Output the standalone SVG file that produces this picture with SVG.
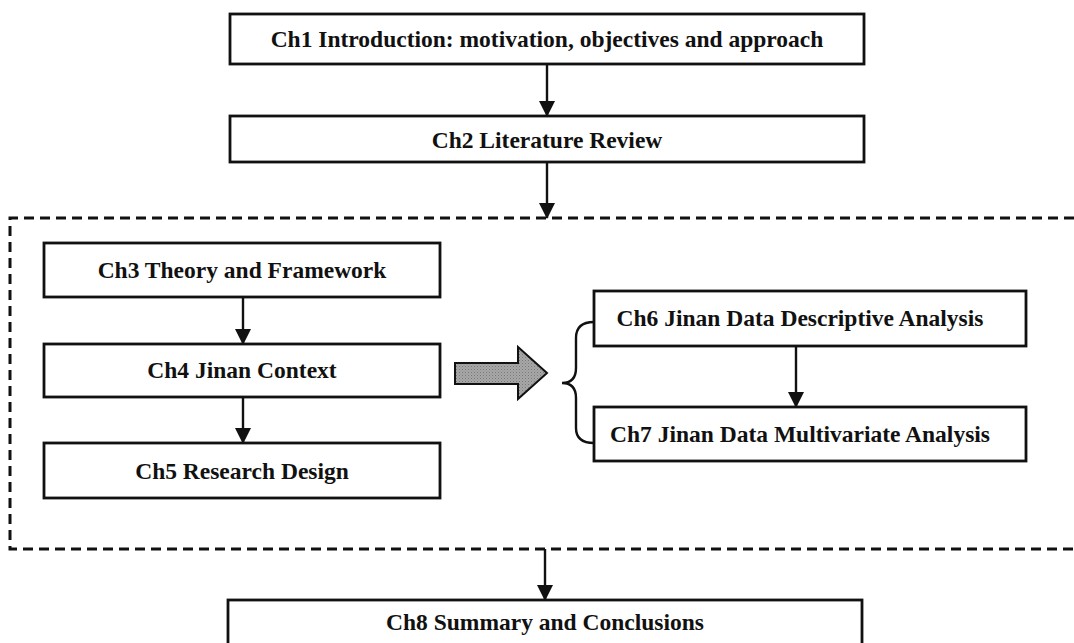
<svg xmlns="http://www.w3.org/2000/svg" width="1074" height="643" viewBox="0 0 1074 643">
  <style>
    .box { fill: #fff; stroke: #111; stroke-width: 2.8; }
    .lbl { font-family: "Liberation Serif", "Times New Roman", serif; font-weight: bold; font-size: 23.5px; fill: #111; text-anchor: middle; }
    .conn { stroke: #111; stroke-width: 2.4; fill: none; }
    .group { fill: none; stroke: #111; stroke-width: 3; stroke-dasharray: 10 6; }
  </style>
  <defs>
    <marker id="head" markerWidth="16" markerHeight="16" refX="15" refY="8" orient="auto" markerUnits="userSpaceOnUse" viewBox="0 0 16 16">
      <path d="M0,0 L16,8 L0,16 Z" fill="#111"/>
    </marker>
    <pattern id="stipple" width="3" height="3" patternUnits="userSpaceOnUse">
      <rect width="3" height="3" fill="#a8a8a8"/>
      <rect width="1" height="1" fill="#777"/>
      <rect x="1.5" y="1.5" width="1" height="1" fill="#888"/>
    </pattern>
  </defs>

  <!-- dashed grouping frame for chapters 3 to 7 (open on the right) -->
  <path class="group" d="M1074,218 L10,218 L10,549 L1074,549"/>

  <g id="ch1">
    <rect class="box" x="230" y="14" width="634" height="50"/>
    <text class="lbl" x="547" y="47">Ch1 Introduction: motivation, objectives and approach</text>
  </g>
  <g id="ch2">
    <rect class="box" x="230" y="116" width="634" height="46"/>
    <text class="lbl" x="547" y="148">Ch2 Literature Review</text>
  </g>
  <g id="ch3">
    <rect class="box" x="44" y="243" width="396" height="54"/>
    <text class="lbl" x="242" y="278">Ch3 Theory and Framework</text>
  </g>
  <g id="ch4">
    <rect class="box" x="44" y="344" width="396" height="53"/>
    <text class="lbl" x="242" y="378">Ch4 Jinan Context</text>
  </g>
  <g id="ch5">
    <rect class="box" x="44" y="443" width="396" height="55"/>
    <text class="lbl" x="242" y="479">Ch5 Research Design</text>
  </g>
  <g id="ch6">
    <rect class="box" x="594" y="291" width="432" height="55"/>
    <text class="lbl" x="800" y="326">Ch6 Jinan Data Descriptive Analysis</text>
  </g>
  <g id="ch7">
    <rect class="box" x="594" y="407" width="432" height="54"/>
    <text class="lbl" x="800" y="442">Ch7 Jinan Data Multivariate Analysis</text>
  </g>
  <g id="ch8">
    <rect class="box" x="228" y="600" width="634" height="60"/>
    <text class="lbl" x="545" y="630">Ch8 Summary and Conclusions</text>
  </g>

  <g id="connectors">
    <line class="conn" x1="547" y1="64" x2="547" y2="116" marker-end="url(#head)"/>
    <line class="conn" x1="547" y1="162" x2="547" y2="218" marker-end="url(#head)"/>
    <line class="conn" x1="243" y1="297" x2="243" y2="344" marker-end="url(#head)"/>
    <line class="conn" x1="243" y1="397" x2="243" y2="443" marker-end="url(#head)"/>
    <line class="conn" x1="796" y1="346" x2="796" y2="407" marker-end="url(#head)"/>
    <line class="conn" x1="545" y1="549" x2="545" y2="600" marker-end="url(#head)"/>
    <!-- block arrow from the context chapters to the analysis chapters -->
    <path d="M455,363 L518,363 L518,347 L547,373 L518,399 L518,384 L455,384 Z" fill="url(#stipple)" stroke="#111" stroke-width="2"/>
    <!-- curly brace gathering Ch6 and Ch7 -->
    <path class="conn" d="M594,322 Q576,322 576,338 L576,368 Q576,383 562,383 Q576,383 576,398 L576,428 Q576,443 594,443"/>
  </g>
</svg>
